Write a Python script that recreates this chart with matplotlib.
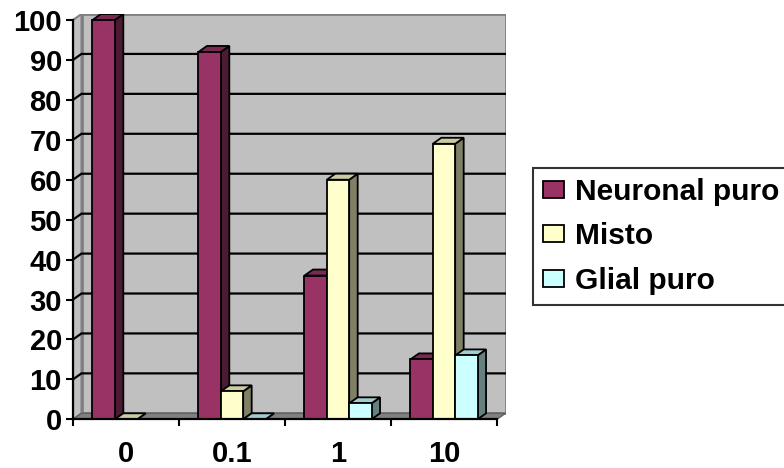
import matplotlib
matplotlib.use("Agg")
import matplotlib.pyplot as plt
from matplotlib.patches import Polygon, Patch
import numpy as np

plt.rcParams['font.family'] = ['Liberation Sans', 'DejaVu Sans']
plt.rcParams['font.weight'] = 'bold'

categories = ["0", "0.1", "1", "10"]
series_names = ["Neuronal puro", "Misto", "Glial puro"]
neuronal = [100, 92, 36, 15]
misto = [0, 7, 60, 69]
glial = [np.nan, 0, 4, 16]
y_ticks = [0, 10, 20, 30, 40, 50, 60, 70, 80, 90, 100]

# face colours: front, top, side
front_colors = ["#993366", "#FFFFCC", "#CCFFFF"]
top_colors = ["#7A2952", "#CCCCA3", "#A3CCCC"]
side_colors = ["#4D1A33", "#808066", "#668080"]

W, H = 784, 468
fig = plt.figure(figsize=(W / 100, H / 100), dpi=100)

# pixel geometry of the front plane
x_left, x_right = 73, 497
y_zero, y_hundred = 419.3, 20.0
px_cat = (x_right - x_left) / len(categories)
px_val = (y_zero - y_hundred) / 100
depth_px_x, depth_px_y = 8.5, 6.0
DX = depth_px_x / px_cat
DY = depth_px_y / px_val

xmin, xmax = -0.5, len(categories) - 0.5
ymax = 100
ax = fig.add_axes([x_left / W, (H - y_zero) / H,
                   (x_right - x_left + depth_px_x) / W,
                   (y_zero - y_hundred + depth_px_y) / H])
ax.set_xlim(xmin, xmax + DX)
ax.set_ylim(0, ymax + DY)
ax.patch.set_visible(False)

wall_gray = "#C0C0C0"
edge_gray = "#808080"

# back wall
ax.add_patch(Polygon([(xmin + DX, DY), (xmax + DX, DY), (xmax + DX, ymax + DY),
                      (xmin + DX, ymax + DY)], closed=True,
                     facecolor=wall_gray, edgecolor=edge_gray, lw=2, zorder=0.5))
# side wall
ax.add_patch(Polygon([(xmin, 0), (xmin + DX, DY), (xmin + DX, ymax + DY), (xmin, ymax)],
                     closed=True, facecolor=wall_gray, edgecolor=edge_gray, lw=1.5,
                     zorder=0.6))
# floor
ax.add_patch(Polygon([(xmin, 0), (xmin + DX, DY), (xmax + DX, DY), (xmax, 0)],
                     closed=True, facecolor=edge_gray, edgecolor="#606060", lw=1,
                     zorder=0.7))

# gridlines on the walls
for v in y_ticks[1:-1]:
    ax.plot([xmin, xmin + DX, xmax + DX], [v, v + DY, v + DY],
            color="black", lw=1.6, zorder=0.8, solid_joinstyle="miter")

# 3D columns
series = [neuronal, misto, glial]
bw = 0.211
for ci in range(len(categories)):
    for si, vals in enumerate(series):
        h = vals[ci]
        if np.isnan(h):
            continue
        x0 = ci + (si - 1.5) * bw
        x1 = x0 + bw
        z = 3 + ci * 0.1 + si * 0.01
        ax.add_patch(Polygon([(x1, 0), (x1 + DX, DY), (x1 + DX, h + DY), (x1, h)],
                             closed=True, facecolor=side_colors[si], edgecolor="black",
                             lw=1.3, zorder=z))
        ax.add_patch(Polygon([(x0, h), (x0 + DX, h + DY), (x1 + DX, h + DY), (x1, h)],
                             closed=True, facecolor=top_colors[si], edgecolor="black",
                             lw=1.3, zorder=z))
        if h > 0:
            ax.add_patch(Polygon([(x0, 0), (x1, 0), (x1, h), (x0, h)], closed=True,
                                 facecolor=front_colors[si], edgecolor="black",
                                 lw=1.3, zorder=z + 0.001))

# axes
for s in ["top", "right"]:
    ax.spines[s].set_visible(False)
ax.spines["left"].set_bounds(0, ymax)
ax.spines["bottom"].set_bounds(xmin, xmax)
for s in ["left", "bottom"]:
    ax.spines[s].set_linewidth(1.6)
    ax.spines[s].set_zorder(6)

ax.set_yticks(y_ticks)
ax.set_yticklabels([str(t) for t in y_ticks])
ax.tick_params(axis="y", direction="out", length=5, width=1.5, pad=3,
               labelsize=21, colors="black")
ax.set_xticks(np.arange(len(categories) + 1) - 0.5)
ax.set_xticklabels([])
ax.tick_params(axis="x", which="major", direction="out", length=5, width=1.5)
ax.set_xticks(np.arange(len(categories)), minor=True)
ax.set_xticklabels(categories, minor=True, fontsize=21, fontweight="bold")
ax.tick_params(axis="x", which="minor", length=0, pad=15)
for lab in ax.get_yticklabels():
    lab.set_fontweight("bold")

handles = [Patch(facecolor=front_colors[i], edgecolor="black", lw=1.3)
           for i in range(3)]
leg = fig.legend(handles, series_names, loc="upper left",
                 bbox_to_anchor=(533 / W, 1 - 168 / H), borderaxespad=0,
                 fancybox=False, frameon=True, prop={"size": 21.5, "weight": "bold"},
                 handlelength=0.7, handleheight=0.5, handletextpad=0.38,
                 labelspacing=0.55, borderpad=0.33)
leg.get_frame().set_edgecolor("black")
leg.get_frame().set_linewidth(1.5)

fig.savefig("out.png", dpi=100, facecolor="white")
